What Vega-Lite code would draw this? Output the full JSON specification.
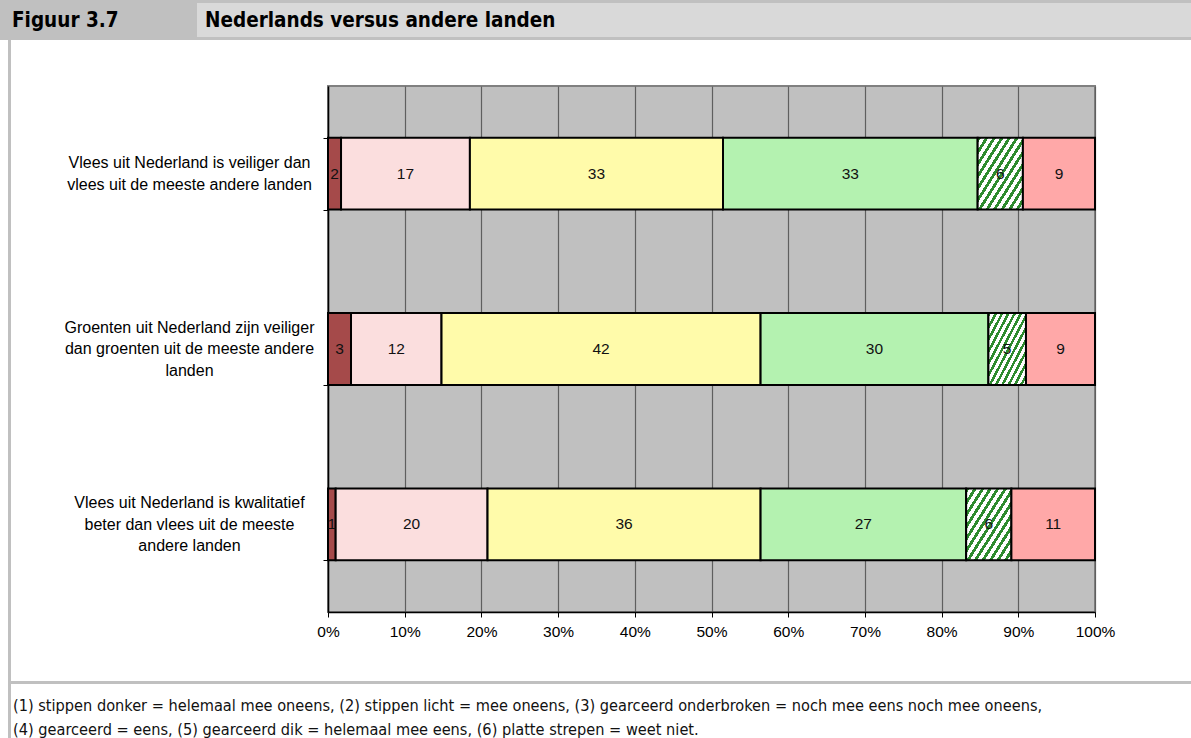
{
  "$schema": "https://vega.github.io/schema/vega-lite/v6.json",
  "padding": 0,
  "background": "white",
  "spacing": 0,
  "config": {
    "view": {"stroke": null},
    "concat": {"spacing": 0}
  },
  "vconcat": [
    {
      "hconcat": [
        {"width": 12, "height": 40, "view": {"fill": "#c0c0c0", "stroke": null}, "data": {"values": []}, "mark": "text", "encoding": {"text": {"value": ""}}},
        {
          "width": 185, "height": 40,
          "view": {"fill": "#c0c0c0", "stroke": null},
          "data": {"values": [{"t": "Figuur 3.7"}]},
          "mark": {"type": "text", "align": "left", "baseline": "middle", "font": "DejaVu Sans Condensed, Liberation Sans", "fontSize": 20.5, "fontWeight": "bold", "color": "#000000"},
          "encoding": {
            "text": {"field": "t"},
            "x": {"field": "t", "type": "nominal", "scale": {"type": "point", "align": 0}, "axis": null},
            "y": {"field": "t", "type": "nominal", "scale": {"type": "point", "align": 0.52}, "axis": null}
          }
        },
        {
          "vconcat": [
            {"width": 994, "height": 3, "view": {"fill": "#c0c0c0", "stroke": null}, "data": {"values": []}, "mark": "text", "encoding": {"text": {"value": ""}}},
            {
              "hconcat": [
                {"width": 8, "height": 34, "view": {"fill": "#d9d9d9", "stroke": null}, "data": {"values": []}, "mark": "text", "encoding": {"text": {"value": ""}}},
                {
                  "width": 986, "height": 34,
                  "view": {"fill": "#d9d9d9", "stroke": null},
                  "data": {"values": [{"t": "Nederlands versus andere landen"}]},
                  "mark": {"type": "text", "align": "left", "baseline": "middle", "font": "DejaVu Sans Condensed, Liberation Sans", "fontSize": 20.5, "fontWeight": "bold", "color": "#000000"},
                  "encoding": {
                    "text": {"field": "t"},
                    "x": {"field": "t", "type": "nominal", "scale": {"type": "point", "align": 0}, "axis": null},
                    "y": {"field": "t", "type": "nominal", "scale": {"type": "point", "align": 0.515}, "axis": null}
                  }
                }
              ],
              "spacing": 0
            },
            {"width": 994, "height": 3, "view": {"fill": "#c0c0c0", "stroke": null}, "data": {"values": []}, "mark": "text", "encoding": {"text": {"value": ""}}}
          ],
          "spacing": 0
        }
      ],
      "spacing": 0
    },
    {
      "hconcat": [
        {"width": 8, "height": 698, "data": {"values": []}, "mark": "text", "encoding": {"text": {"value": ""}}},
        {"width": 3, "height": 698, "view": {"fill": "#c0c0c0", "stroke": null}, "data": {"values": []}, "mark": "text", "encoding": {"text": {"value": ""}}},
        {
          "vconcat": [
            {
              "hconcat": [
                {"width": 52, "height": 641, "data": {"values": []}, "mark": "text", "encoding": {"text": {"value": ""}}},
                {
                  "vconcat": [
                    {"width": 767, "height": 37, "data": {"values": []}, "mark": "text", "encoding": {"text": {"value": ""}}},
                    {
                      "width": 767, "height": 526,
                      "view": {"fill": "#c0c0c0", "stroke": "#808080", "strokeWidth": 2},
                      "data": {"values": [
                        {"item": "Vlees uit Nederland is veiliger dan|vlees uit de meeste andere landen", "k": 1, "v": 1.7},
                        {"item": "Vlees uit Nederland is veiliger dan|vlees uit de meeste andere landen", "k": 2, "v": 16.8},
                        {"item": "Vlees uit Nederland is veiliger dan|vlees uit de meeste andere landen", "k": 3, "v": 33.0},
                        {"item": "Vlees uit Nederland is veiliger dan|vlees uit de meeste andere landen", "k": 4, "v": 33.2},
                        {"item": "Vlees uit Nederland is veiliger dan|vlees uit de meeste andere landen", "k": 5, "v": 5.9},
                        {"item": "Vlees uit Nederland is veiliger dan|vlees uit de meeste andere landen", "k": 6, "v": 9.4},
                        {"item": "Groenten uit Nederland zijn veiliger|dan groenten uit de meeste andere|landen", "k": 1, "v": 3.0},
                        {"item": "Groenten uit Nederland zijn veiliger|dan groenten uit de meeste andere|landen", "k": 2, "v": 11.8},
                        {"item": "Groenten uit Nederland zijn veiliger|dan groenten uit de meeste andere|landen", "k": 3, "v": 41.6},
                        {"item": "Groenten uit Nederland zijn veiliger|dan groenten uit de meeste andere|landen", "k": 4, "v": 29.7},
                        {"item": "Groenten uit Nederland zijn veiliger|dan groenten uit de meeste andere|landen", "k": 5, "v": 4.9},
                        {"item": "Groenten uit Nederland zijn veiliger|dan groenten uit de meeste andere|landen", "k": 6, "v": 9.0},
                        {"item": "Vlees uit Nederland is kwalitatief|beter dan vlees uit de meeste|andere landen", "k": 1, "v": 1.0},
                        {"item": "Vlees uit Nederland is kwalitatief|beter dan vlees uit de meeste|andere landen", "k": 2, "v": 19.8},
                        {"item": "Vlees uit Nederland is kwalitatief|beter dan vlees uit de meeste|andere landen", "k": 3, "v": 35.6},
                        {"item": "Vlees uit Nederland is kwalitatief|beter dan vlees uit de meeste|andere landen", "k": 4, "v": 26.8},
                        {"item": "Vlees uit Nederland is kwalitatief|beter dan vlees uit de meeste|andere landen", "k": 5, "v": 5.9},
                        {"item": "Vlees uit Nederland is kwalitatief|beter dan vlees uit de meeste|andere landen", "k": 6, "v": 10.9}
                      ]},
                      "transform": [
                        {"stack": "v", "groupby": ["item"], "sort": [{"field": "k", "order": "ascending"}], "as": ["v0", "v1"], "offset": "normalize"},
                        {"calculate": "(datum.v0 + datum.v1) / 2", "as": "vm"}
                      ],
                      "encoding": {
                        "y": {
                          "field": "item", "type": "nominal",
                          "sort": null,
                          "scale": {"paddingInner": 0.59, "paddingOuter": 0.295},
                          "axis": {
                            "title": null,
                            "labelExpr": "split(datum.label, '|')",
                            "labelAlign": "center",
                            "labelBaseline": "middle",
                            "labelLineHeight": 21.6,
                            "labelOffset": {"condition": {"test": "length(split(datum.value, '|')) == 2", "value": -10.8}, "value": -21.6},
                            "labelPadding": 134,
                            "labelLimit": 0,
                            "labelFont": "Liberation Sans",
                            "labelFontSize": 16,
                            "labelColor": "#000000",
                            "tickBand": "extent",
                            "tickSize": 5,
                            "tickColor": "#000000",
                            "domainColor": "#000000",
                            "domainWidth": 1.5,
                            "grid": false
                          }
                        }
                      },
                      "layer": [
                        {
                          "mark": {"type": "bar", "stroke": "#000000", "strokeWidth": 2, "opacity": 1},
                          "encoding": {
                            "x": {
                              "field": "v0", "type": "quantitative",
                              "scale": {"domain": [0, 1], "nice": false},
                              "axis": {"title": null, "values": [0, 0.1, 0.2, 0.3, 0.4, 0.5, 0.6, 0.7, 0.8, 0.9, 1], "format": ".0%", "labelFont": "Liberation Sans", "labelFontSize": 15.5, "labelColor": "#000000", "labelPadding": 7, "labelFlush": false, "tickSize": 5, "tickColor": "#000000", "domainColor": "#000000", "domainWidth": 1.5, "grid": true, "gridColor": "#5f5f5f", "gridWidth": 1.2, "gridOpacity": 1}
                            },
                            "x2": {"field": "v1"},
                            "fill": {
                              "condition": {"test": "datum.k == 5", "value": {"gradient": "linear", "x1": 0, "y1": 0, "x2": 1, "y2": 1, "stops": [
                                {"offset": 0, "color": "#2e8b2e"}, {"offset": 0.0375, "color": "#2e8b2e"}, {"offset": 0.0375, "color": "#ffffff"}, {"offset": 0.0833, "color": "#ffffff"},
                                {"offset": 0.0833, "color": "#2e8b2e"}, {"offset": 0.1208, "color": "#2e8b2e"}, {"offset": 0.1208, "color": "#ffffff"}, {"offset": 0.1667, "color": "#ffffff"},
                                {"offset": 0.1667, "color": "#2e8b2e"}, {"offset": 0.2042, "color": "#2e8b2e"}, {"offset": 0.2042, "color": "#ffffff"}, {"offset": 0.25, "color": "#ffffff"},
                                {"offset": 0.25, "color": "#2e8b2e"}, {"offset": 0.2875, "color": "#2e8b2e"}, {"offset": 0.2875, "color": "#ffffff"}, {"offset": 0.3333, "color": "#ffffff"},
                                {"offset": 0.3333, "color": "#2e8b2e"}, {"offset": 0.3708, "color": "#2e8b2e"}, {"offset": 0.3708, "color": "#ffffff"}, {"offset": 0.4167, "color": "#ffffff"},
                                {"offset": 0.4167, "color": "#2e8b2e"}, {"offset": 0.4542, "color": "#2e8b2e"}, {"offset": 0.4542, "color": "#ffffff"}, {"offset": 0.5, "color": "#ffffff"},
                                {"offset": 0.5, "color": "#2e8b2e"}, {"offset": 0.5375, "color": "#2e8b2e"}, {"offset": 0.5375, "color": "#ffffff"}, {"offset": 0.5833, "color": "#ffffff"},
                                {"offset": 0.5833, "color": "#2e8b2e"}, {"offset": 0.6208, "color": "#2e8b2e"}, {"offset": 0.6208, "color": "#ffffff"}, {"offset": 0.6667, "color": "#ffffff"},
                                {"offset": 0.6667, "color": "#2e8b2e"}, {"offset": 0.7042, "color": "#2e8b2e"}, {"offset": 0.7042, "color": "#ffffff"}, {"offset": 0.75, "color": "#ffffff"},
                                {"offset": 0.75, "color": "#2e8b2e"}, {"offset": 0.7875, "color": "#2e8b2e"}, {"offset": 0.7875, "color": "#ffffff"}, {"offset": 0.8333, "color": "#ffffff"},
                                {"offset": 0.8333, "color": "#2e8b2e"}, {"offset": 0.8708, "color": "#2e8b2e"}, {"offset": 0.8708, "color": "#ffffff"}, {"offset": 0.9167, "color": "#ffffff"},
                                {"offset": 0.9167, "color": "#2e8b2e"}, {"offset": 0.9542, "color": "#2e8b2e"}, {"offset": 0.9542, "color": "#ffffff"}, {"offset": 1, "color": "#ffffff"}
                              ]}},
                              "field": "k", "type": "nominal",
                              "scale": {"domain": [1, 2, 3, 4, 5, 6], "range": ["#a54a4a", "#fbdede", "#fffbaa", "#b4f2b0", "#78b478", "#ffa8a8"]},
                              "legend": null
                            }
                          }
                        },
                        {
                          "mark": {"type": "text", "font": "Liberation Sans", "fontSize": 15.5, "color": "#111111", "baseline": "middle", "align": "center"},
                          "encoding": {
                            "x": {
                              "field": "vm", "type": "quantitative",
                              "axis": {"title": null, "values": [0, 0.1, 0.2, 0.3, 0.4, 0.5, 0.6, 0.7, 0.8, 0.9, 1], "format": ".0%", "labelFont": "Liberation Sans", "labelFontSize": 15.5, "labelColor": "#000000", "labelPadding": 7, "labelFlush": false, "tickSize": 5, "tickColor": "#000000", "domainColor": "#000000", "domainWidth": 1.5, "grid": true, "gridColor": "#5f5f5f", "gridWidth": 1.2, "gridOpacity": 1}
                            },
                            "text": {"field": "v", "type": "quantitative", "format": ".0f"}
                          }
                        }
                      ]
                    },
                    {"width": 767, "height": 39, "data": {"values": []}, "mark": "text", "encoding": {"text": {"value": ""}}}
                  ],
                  "spacing": 0
                }
              ],
              "spacing": 0
            },
            {"width": 1180, "height": 3, "view": {"fill": "#c0c0c0", "stroke": null}, "data": {"values": []}, "mark": "text", "encoding": {"text": {"value": ""}}},
            {
              "hconcat": [
                {"width": 2, "height": 54, "data": {"values": []}, "mark": "text", "encoding": {"text": {"value": ""}}},
                {
                  "width": 1178, "height": 54,
                  "data": {"values": [{"t": "(1) stippen donker = helemaal mee oneens, (2) stippen licht = mee oneens, (3) gearceerd onderbroken = noch mee eens noch mee oneens,\n(4) gearceerd = eens, (5) gearceerd dik = helemaal mee eens, (6) platte strepen = weet niet."}]},
                  "mark": {"type": "text", "align": "left", "baseline": "middle", "lineBreak": "\n", "lineHeight": 24, "font": "DejaVu Sans Condensed, Liberation Sans", "fontSize": 16.2, "color": "#111111"},
                  "encoding": {
                    "text": {"field": "t"},
                    "x": {"field": "t", "type": "nominal", "scale": {"type": "point", "align": 0}, "axis": null},
                    "y": {"field": "t", "type": "nominal", "scale": {"type": "point", "align": 0.41}, "axis": null}
                  }
                }
              ],
              "spacing": 0
            }
          ],
          "spacing": 0
        }
      ],
      "spacing": 0
    }
  ]
}
